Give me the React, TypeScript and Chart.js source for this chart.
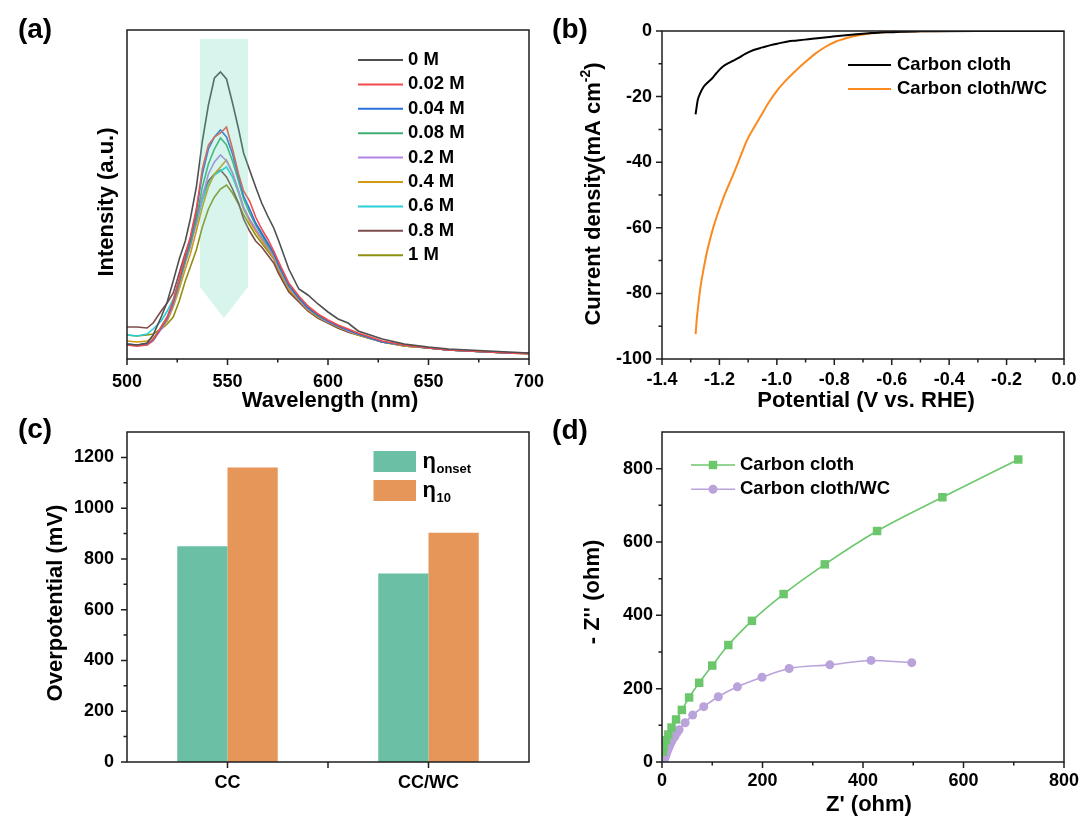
import React, { useEffect, useRef } from "react";
import { Chart, registerables } from "chart.js";

Chart.register(...registerables);

const FONT = "'Liberation Sans', Arial, Helvetica, sans-serif";
const TICK_FONT = { family: FONT, size: 18, weight: "bold" as const, lineHeight: 1.2 };

// ---------------- (a) PL spectra ----------------
const wavelengthNm = [500, 505, 510, 513, 517, 520, 523, 526, 529, 531.5, 534.5, 537.5, 540.5, 543.5, 546.5, 549.5, 552.5, 555.5, 558, 561, 564, 567, 570, 573, 575.5, 580.5, 585.5, 590, 595, 600, 605, 610, 615, 627, 638, 650, 660, 670, 680, 690, 700];
const concentrationLabels = ["0 M", "0.02 M", "0.04 M", "0.08 M", "0.2 M", "0.4 M", "0.6 M", "0.8 M", "1 M"];
const pl0M = [15, 14, 16, 24, 42, 57, 78, 100, 118, 140, 172, 218, 254, 281, 287, 280, 256, 230, 206, 189, 172, 156, 143, 131, 118, 90, 70, 64, 55, 47, 40, 36, 28, 20, 15, 12, 10, 9, 8, 7, 6];
const pl002M = [14, 13, 14, 19, 32, 42, 58, 80, 104, 122, 150, 190, 214, 222, 226, 232, 210, 185, 168, 158, 142, 130, 120, 108, 97, 76, 63, 53, 45, 39, 34, 30, 26, 18, 14, 11, 9, 8, 7, 6, 5];
const pl004M = [15, 14, 15, 19, 31, 41, 57, 79, 102, 120, 148, 185, 210, 222, 229, 222, 205, 182, 163, 150, 136, 126, 116, 106, 94, 74, 61, 51, 44, 38, 33, 29, 25, 17, 14, 11, 9, 8, 7, 6, 6];
const pl008M = [14, 14, 15, 19, 32, 42, 56, 76, 98, 115, 140, 172, 195, 210, 221, 214, 198, 178, 160, 146, 134, 124, 114, 105, 93, 73, 61, 51, 43, 38, 33, 29, 25, 17, 14, 11, 9, 8, 7, 6, 5];
const pl02M = [14, 13, 14, 18, 30, 40, 54, 75, 96, 112, 136, 162, 185, 197, 204, 198, 186, 168, 152, 140, 130, 121, 112, 103, 91, 72, 60, 50, 43, 37, 33, 28, 25, 17, 14, 11, 9, 8, 7, 6, 6];
const pl04M = [18, 17, 18, 21, 30, 38, 52, 70, 90, 105, 128, 152, 172, 185, 192, 199, 186, 168, 150, 138, 128, 119, 110, 101, 89, 70, 59, 49, 42, 37, 32, 28, 24, 17, 13, 11, 9, 8, 7, 6, 6];
const pl06M = [24, 23, 25, 30, 38, 48, 60, 80, 100, 115, 135, 158, 175, 184, 188, 192, 182, 166, 150, 139, 129, 121, 112, 103, 92, 72, 61, 51, 44, 38, 33, 29, 25, 17, 14, 11, 9, 8, 7, 6, 6];
const pl08M = [32, 32, 31, 36, 48, 56, 66, 86, 106, 120, 142, 162, 178, 185, 189, 182, 170, 156, 140, 128, 118, 112, 104, 96, 85, 67, 57, 48, 41, 36, 31, 27, 24, 17, 13, 11, 9, 8, 7, 6, 6];
const pl1M = [24, 23, 24, 25, 30, 35, 42, 58, 78, 92, 109, 132, 150, 162, 170, 174, 166, 155, 144, 134, 124, 116, 108, 100, 87, 69, 58, 48, 41, 36, 31, 27, 24, 17, 13, 11, 9, 8, 7, 6, 6];
const plSeries = [pl0M, pl002M, pl004M, pl008M, pl02M, pl04M, pl06M, pl08M, pl1M];
const plColors = ["#4f4f4f", "#f24b4b", "#2a6fdc", "#3fae72", "#b383e6", "#d09a12", "#26d0d6", "#7e4c4c", "#8f8f14"];
const wavelengthTicks = [500, 550, 600, 650, 700];
const wavelengthMinor = [525, 575, 625, 675];
const arrowNm = [536.3, 548.2, 560.2];
const arrowLevels = [320, 72, 41];

// ---------------- (b) polarization curves ----------------
const ccPotential = [-1.283, -1.2754, -1.268, -1.255, -1.24, -1.225, -1.21, -1.189, -1.16, -1.135, -1.11, -1.081, -1.05, -1.022, -0.99, -0.962, -0.93, -0.89, -0.85, -0.806, -0.76, -0.722, -0.68, -0.65, -0.6, -0.566, -0.5, -0.447, -0.3, -0.15, 0];
const ccCurrent = [-25.4, -21.0, -19.2, -17.0, -15.6, -14.4, -12.8, -10.9, -9.4, -8.3, -7.0, -5.8, -5.0, -4.3, -3.7, -3.2, -2.9, -2.5, -2.1, -1.7, -1.3, -1.0, -0.7, -0.5, -0.35, -0.2, -0.1, -0.05, 0, 0, 0];
const wcPotential = [-1.283, -1.279, -1.273, -1.265, -1.255, -1.245, -1.237, -1.22, -1.201, -1.18, -1.153, -1.13, -1.105, -1.08, -1.057, -1.03, -0.998, -0.97, -0.938, -0.9, -0.866, -0.83, -0.794, -0.77, -0.746, -0.7, -0.674, -0.64, -0.602, -0.55, -0.507, -0.4, -0.2, 0];
const wcCurrent = [-92.4, -88, -83, -77.5, -72.5, -68, -65, -59.5, -54.5, -49.5, -44, -39, -33.5, -29.5, -26.1, -22, -18.0, -15.2, -12.4, -9.4, -6.9, -4.8, -3.2, -2.5, -1.9, -1.1, -0.75, -0.45, -0.3, -0.15, -0.05, 0, 0, 0];
const lsvLabels = ["Carbon cloth", "Carbon cloth/WC"];
const lsvColors = ["#000000", "#fb8a1e"];
const potentialTicks = [-1.4, -1.2, -1.0, -0.8, -0.6, -0.4, -0.2, 0];
const potentialMinor = [-1.3, -1.1, -0.9, -0.7, -0.5, -0.3, -0.1];
const currentTicks = [0, -20, -40, -60, -80, -100];
const currentMinor = [-10, -30, -50, -70, -90];

// ---------------- (c) overpotential bars ----------------
const catalysts = ["CC", "CC/WC"];
const etaOnset = [850, 743];
const eta10 = [1160, 903];
const barColors = ["#6bbfa4", "#e7965a"];
const overTicks = [0, 200, 400, 600, 800, 1000, 1200];
const overMinor = [100, 300, 500, 700, 900, 1100];

// ---------------- (d) Nyquist ----------------
const ccZre = [1.5, 3, 8, 12.6, 19, 28, 39.5, 54, 74, 100, 132, 179, 242, 324, 428, 558, 709];
const ccZim = [28, 41, 59, 75, 94, 116, 142, 176, 216, 263, 319, 385, 458, 539, 630, 722, 825];
const wcZre = [3, 5, 7, 9, 11, 13.5, 16, 19, 22, 26, 30, 34, 46, 61, 83, 112, 150, 199, 253, 334, 416, 497];
const wcZim = [1, 8, 15, 23, 31, 39, 47, 55, 63, 71, 80, 88, 107, 128, 151, 178, 205, 231, 255, 265, 277, 271];
const eisColors = ["#6cc76c", "#b9a3da"];
const zTicks = [0, 200, 400, 600, 800];
const zMinor = [100, 300, 500, 700];

// ---------------- helpers ----------------
function drawText(ctx: any, s: string, x: number, y: number, size: number, align = "center", baseline = "middle", rotate = 0) {
  ctx.save();
  ctx.translate(x, y);
  if (rotate) ctx.rotate(rotate);
  ctx.font = `bold ${size}px ${FONT}`;
  ctx.fillStyle = "#000";
  ctx.textAlign = align;
  ctx.textBaseline = baseline;
  ctx.fillText(s, 0, 0);
  ctx.restore();
}

function drawRotatedParts(ctx: any, cx: number, cy: number, parts: { t: string; size: number; dy: number }[]) {
  ctx.save();
  ctx.translate(cx, cy);
  ctx.rotate(-Math.PI / 2);
  ctx.fillStyle = "#000";
  ctx.textBaseline = "middle";
  ctx.textAlign = "left";
  const widths = parts.map((p) => {
    ctx.font = `bold ${p.size}px ${FONT}`;
    return ctx.measureText(p.t).width;
  });
  const total = widths.reduce((a, b) => a + b, 0);
  let x = -total / 2;
  parts.forEach((p, i) => {
    ctx.font = `bold ${p.size}px ${FONT}`;
    ctx.fillText(p.t, x, p.dy);
    x += widths[i];
  });
  ctx.restore();
}

function decor(spec: any) {
  return {
    id: "decor",
    afterDatasetsDraw(chart: any) {
      if (spec.overlay) spec.overlay(chart.ctx, chart);
    },
    afterDraw(chart: any) {
      const { ctx, chartArea: a } = chart;
      const xs = chart.scales.x;
      const ys = chart.scales.y;
      ctx.save();
      ctx.strokeStyle = "#1e1e1e";
      ctx.lineWidth = 1.5;
      ctx.strokeRect(a.left, a.top, a.right - a.left, a.bottom - a.top);
      ctx.beginPath();
      (spec.xMajor || []).forEach((v: number) => {
        const p = xs.getPixelForValue(v);
        ctx.moveTo(p, a.bottom);
        ctx.lineTo(p, a.bottom + 6);
      });
      (spec.xMinor || []).forEach((v: number) => {
        const p = xs.getPixelForValue(v);
        ctx.moveTo(p, a.bottom);
        ctx.lineTo(p, a.bottom + 3.5);
      });
      (spec.yMajor || []).forEach((v: number) => {
        const p = ys.getPixelForValue(v);
        ctx.moveTo(a.left, p);
        ctx.lineTo(a.left - 6, p);
      });
      (spec.yMinor || []).forEach((v: number) => {
        const p = ys.getPixelForValue(v);
        ctx.moveTo(a.left, p);
        ctx.lineTo(a.left - 3.5, p);
      });
      ctx.stroke();
      ctx.restore();
      if (spec.draw) spec.draw(ctx, chart);
    },
  };
}

function yScale(min: number, max: number, step: number, showTicks: boolean, pad: number, extra: any = {}) {
  return {
    type: "linear",
    min,
    max,
    afterFit: (s: any) => {
      s.width = 100;
      s.paddingTop = 0;
      s.paddingBottom = 0;
    },
    grid: { display: false, drawTicks: false },
    border: { display: false },
    ticks: {
      display: showTicks,
      stepSize: step,
      includeBounds: false,
      autoSkip: false,
      font: TICK_FONT,
      color: "#000",
      padding: pad,
      callback: (v: any) => String(v),
    },
    ...extra,
  };
}

function xLinear(min: number, max: number, step: number, height: number, pad: number, cb?: any) {
  return {
    type: "linear",
    min,
    max,
    afterFit: (s: any) => {
      s.height = height;
      s.paddingLeft = 0;
      s.paddingRight = 0;
    },
    grid: { display: false, drawTicks: false },
    border: { display: false },
    ticks: {
      stepSize: step,
      includeBounds: false,
      autoSkip: false,
      maxRotation: 0,
      font: TICK_FONT,
      color: "#000",
      padding: pad,
      callback: cb || ((v: any) => String(v)),
    },
  };
}

const commonPlugins = { legend: { display: false }, tooltip: { enabled: false } };

// ---------------- chart configs ----------------
function configA(): any {
  return {
    type: "line",
    data: {
      datasets: plSeries.map((s, i) => ({
        label: concentrationLabels[i],
        data: wavelengthNm.map((w, j) => ({ x: w, y: s[j] })),
        borderColor: plColors[i],
        borderWidth: 1.6,
        pointRadius: 0,
        fill: false,
        tension: 0,
      })),
    },
    options: {
      responsive: false,
      animation: false,
      devicePixelRatio: 1,
      events: [],
      layout: { autoPadding: false, padding: { left: 27, right: 551, top: 30, bottom: 406 } },
      plugins: commonPlugins,
      scales: {
        x: xLinear(500, 700, 50, 54, 12),
        y: yScale(0, 329, 50, false, 0),
      },
    },
    plugins: [
      decor({
        xMajor: wavelengthTicks,
        xMinor: wavelengthMinor,
        overlay: (ctx: any, chart: any) => {
          const xs = chart.scales.x;
          const ys = chart.scales.y;
          const xl = xs.getPixelForValue(arrowNm[0]);
          const xm = xs.getPixelForValue(arrowNm[1]);
          const xr = xs.getPixelForValue(arrowNm[2]);
          const yt = ys.getPixelForValue(arrowLevels[0]);
          const yb = ys.getPixelForValue(arrowLevels[1]);
          const ytip = ys.getPixelForValue(arrowLevels[2]);
          ctx.save();
          ctx.fillStyle = "rgba(95, 217, 181, 0.25)";
          ctx.fillRect(xl, yt, xr - xl, yb - yt);
          ctx.beginPath();
          ctx.moveTo(xl, yb);
          ctx.lineTo(xr, yb);
          ctx.lineTo(xm, ytip);
          ctx.closePath();
          ctx.fill();
          ctx.restore();
        },
        draw: (ctx: any) => {
          drawText(ctx, "(a)", 35, 30, 28);
          drawText(ctx, "Wavelength (nm)", 330, 401, 22);
          drawText(ctx, "Intensity (a.u.)", 106.5, 202, 22, "center", "middle", -Math.PI / 2);
          concentrationLabels.forEach((lab, i) => {
            const y = 60 + i * 24.4;
            ctx.save();
            ctx.strokeStyle = plColors[i];
            ctx.lineWidth = 2;
            ctx.beginPath();
            ctx.moveTo(358, y);
            ctx.lineTo(403, y);
            ctx.stroke();
            ctx.restore();
            drawText(ctx, lab, 408, y, 18.5, "left");
          });
        },
      }),
    ],
  };
}

function configB(): any {
  const series = [
    { p: ccPotential, c: ccCurrent },
    { p: wcPotential, c: wcCurrent },
  ];
  return {
    type: "scatter",
    data: {
      datasets: series.map((s, i) => ({
        label: lsvLabels[i],
        data: s.p.map((v, j) => ({ x: v, y: s.c[j] })),
        showLine: true,
        borderColor: lsvColors[i],
        backgroundColor: lsvColors[i],
        borderWidth: 2,
        pointRadius: 0,
        cubicInterpolationMode: "monotone",
      })),
    },
    options: {
      responsive: false,
      animation: false,
      devicePixelRatio: 1,
      events: [],
      layout: { autoPadding: false, padding: { left: 562, right: 16, top: 31, bottom: 406 } },
      plugins: commonPlugins,
      scales: {
        x: xLinear(-1.4, 0, 0.2, 54, 10, (v: any) => Number(v).toFixed(1)),
        y: yScale(-100, 0, 20, true, 10),
      },
    },
    plugins: [
      decor({
        xMajor: potentialTicks,
        xMinor: potentialMinor,
        yMajor: currentTicks,
        yMinor: currentMinor,
        draw: (ctx: any) => {
          drawText(ctx, "(b)", 570, 30, 28);
          drawText(ctx, "Potential (V vs. RHE)", 866, 401, 22);
          drawRotatedParts(ctx, 594, 194, [
            { t: "Current density(mA cm", size: 22, dy: 0 },
            { t: "-2", size: 14, dy: -8 },
            { t: ")", size: 22, dy: 0 },
          ]);
          lsvLabels.forEach((lab, i) => {
            const y = 65 + i * 24;
            ctx.save();
            ctx.strokeStyle = lsvColors[i];
            ctx.lineWidth = 2;
            ctx.beginPath();
            ctx.moveTo(848, y);
            ctx.lineTo(891, y);
            ctx.stroke();
            ctx.restore();
            drawText(ctx, lab, 897, y, 18.5, "left");
          });
        },
      }),
    ],
  };
}

function configC(): any {
  const vals = [etaOnset, eta10];
  return {
    type: "bar",
    data: {
      labels: catalysts,
      datasets: vals.map((v, i) => ({
        label: i === 0 ? "onset" : "10",
        data: v,
        backgroundColor: barColors[i],
        borderWidth: 0,
        barPercentage: 1,
        categoryPercentage: 0.5,
      })),
    },
    options: {
      responsive: false,
      animation: false,
      devicePixelRatio: 1,
      events: [],
      layout: { autoPadding: false, padding: { left: 27, right: 551, top: 432, bottom: 17 } },
      plugins: commonPlugins,
      scales: {
        x: {
          type: "category",
          afterFit: (s: any) => {
            s.height = 40;
            s.paddingLeft = 0;
            s.paddingRight = 0;
          },
          grid: { display: false, drawTicks: false },
          border: { display: false },
          ticks: { font: TICK_FONT, color: "#000", padding: 10, autoSkip: false, maxRotation: 0 },
        },
        y: yScale(0, 1300, 200, true, 13),
      },
    },
    plugins: [
      decor({
        xMajor: [0, 0.5, 1],
        yMajor: overTicks,
        yMinor: overMinor,
        draw: (ctx: any) => {
          drawText(ctx, "(c)", 35, 430, 28);
          drawText(ctx, "Overpotential (mV)", 56, 603, 22, "center", "middle", -Math.PI / 2);
          const subs = ["onset", "10"];
          subs.forEach((sub, i) => {
            const top = 451 + i * 29;
            ctx.save();
            ctx.fillStyle = barColors[i];
            ctx.fillRect(373.5, top, 42.5, 21);
            ctx.restore();
            const base = top + 16.5;
            drawText(ctx, "η", 422.5, base, 22, "left", "alphabetic");
            ctx.save();
            ctx.font = `bold 22px ${FONT}`;
            const w = ctx.measureText("η").width;
            ctx.restore();
            drawText(ctx, sub, 422.5 + w + 0.5, base + 5.5, 13, "left", "alphabetic");
          });
        },
      }),
    ],
  };
}

function configD(): any {
  const series = [
    { x: ccZre, y: ccZim, style: "rect", r: 6 },
    { x: wcZre, y: wcZim, style: "circle", r: 4.5 },
  ];
  return {
    type: "scatter",
    data: {
      datasets: series.map((s, i) => ({
        label: lsvLabels[i],
        data: s.x.map((v, j) => ({ x: v, y: s.y[j] })),
        showLine: true,
        borderColor: eisColors[i],
        backgroundColor: eisColors[i],
        borderWidth: 1.6,
        pointStyle: s.style,
        pointRadius: s.r,
        pointBorderWidth: 0,
        cubicInterpolationMode: "monotone",
      })),
    },
    options: {
      responsive: false,
      animation: false,
      devicePixelRatio: 1,
      events: [],
      layout: { autoPadding: false, padding: { left: 562, right: 16, top: 432, bottom: 17 } },
      plugins: commonPlugins,
      scales: {
        x: xLinear(0, 800, 200, 40, 8),
        y: yScale(0, 900, 200, true, 9),
      },
    },
    plugins: [
      decor({
        xMajor: zTicks,
        xMinor: zMinor,
        yMajor: zTicks,
        yMinor: zMinor,
        draw: (ctx: any) => {
          drawText(ctx, "(d)", 570, 431, 28);
          drawText(ctx, "Z' (ohm)", 869, 805, 22);
          drawText(ctx, "- Z'' (ohm)", 593, 592, 22, "center", "middle", -Math.PI / 2);
          lsvLabels.forEach((lab, i) => {
            const y = 465 + i * 24.3;
            ctx.save();
            ctx.strokeStyle = eisColors[i];
            ctx.fillStyle = eisColors[i];
            ctx.lineWidth = 1.6;
            ctx.beginPath();
            ctx.moveTo(691, y);
            ctx.lineTo(735, y);
            ctx.stroke();
            if (i === 0) {
              ctx.fillRect(713 - 4.2, y - 4.2, 8.4, 8.4);
            } else {
              ctx.beginPath();
              ctx.arc(713, y, 4.5, 0, Math.PI * 2);
              ctx.fill();
            }
            ctx.restore();
            drawText(ctx, lab, 740, y, 18.5, "left");
          });
        },
      }),
    ],
  };
}

export default function App() {
  const refA = useRef<HTMLCanvasElement>(null);
  const refB = useRef<HTMLCanvasElement>(null);
  const refC = useRef<HTMLCanvasElement>(null);
  const refD = useRef<HTMLCanvasElement>(null);

  useEffect(() => {
    const charts = [
      new Chart(refA.current as HTMLCanvasElement, configA()),
      new Chart(refB.current as HTMLCanvasElement, configB()),
      new Chart(refC.current as HTMLCanvasElement, configC()),
      new Chart(refD.current as HTMLCanvasElement, configD()),
    ];
    return () => charts.forEach((c) => c.destroy());
  }, []);

  const canvasStyle: React.CSSProperties = { position: "absolute", left: 0, top: 0, width: 1080, height: 819 };
  return (
    <div style={{ position: "absolute", left: 0, top: 0, width: 1080, height: 819, background: "#fff", overflow: "hidden" }}>
      <canvas ref={refA} width={1080} height={819} style={canvasStyle} />
      <canvas ref={refB} width={1080} height={819} style={canvasStyle} />
      <canvas ref={refC} width={1080} height={819} style={canvasStyle} />
      <canvas ref={refD} width={1080} height={819} style={canvasStyle} />
    </div>
  );
}
